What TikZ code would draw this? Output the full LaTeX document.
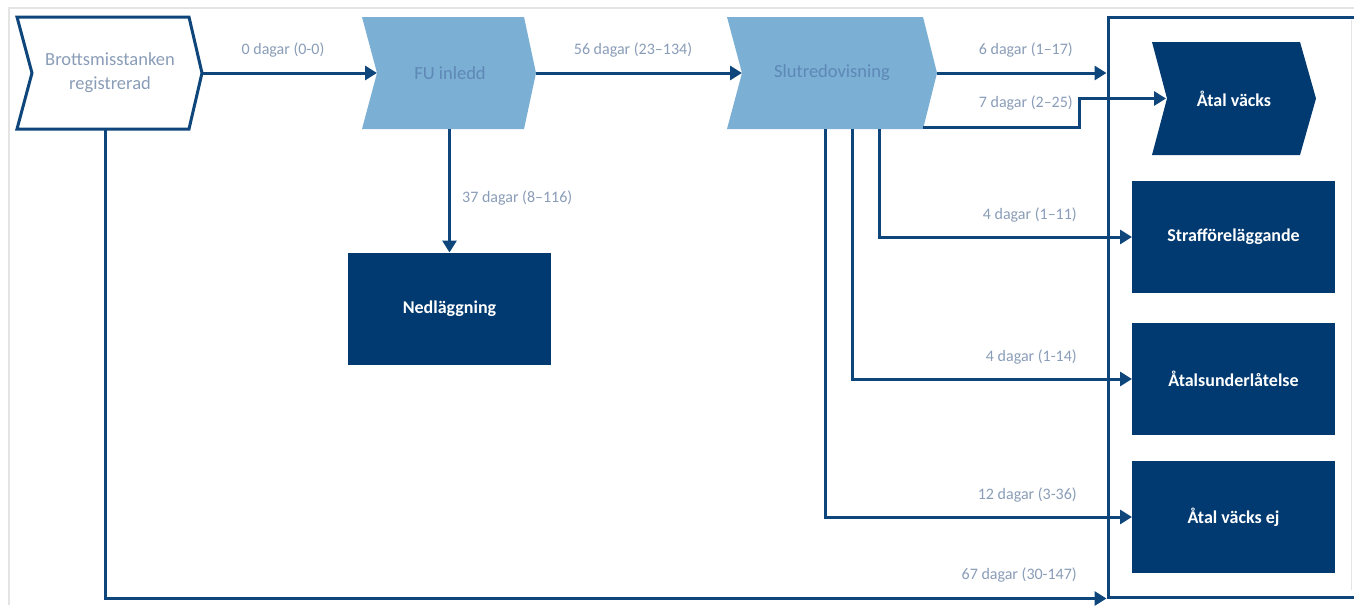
\documentclass[tikz,border=0pt]{standalone}
\usepackage{fontspec}
\setmainfont{Carlito}
\usetikzlibrary{arrows.meta,calc}
\definecolor{dk}{HTML}{003A70}
\definecolor{ln}{HTML}{0E467C}
\definecolor{lt}{HTML}{7BAFD4}
\definecolor{lbl}{HTML}{8A9DB8}
\definecolor{ltx}{HTML}{5E88B6}
\definecolor{frm}{HTML}{E4E4E4}
\pgfdeclarelayer{bg}
\pgfsetlayers{bg,main}
\newcommand{\chevshape}[3]{%
  \path[#2] (#1.north west) -- (#1.north east) -- ($(#1.east)+(#3,0)$) -- (#1.south east) -- (#1.south west) -- ($(#1.west)+(15,0)$) -- cycle;}
\begin{document}
\begin{tikzpicture}[x=1pt,y=-1pt,
  conn/.style={draw=ln, line width=3pt, -{Triangle[length=12pt,width=14pt]}},
  lab/.style={text=lbl, font=\fontsize{16}{19}\selectfont, inner sep=0pt},
  body/.style={minimum width=#1, minimum height=112pt, inner sep=0pt, outer sep=0pt},
  chevtext/.style={font=\fontsize{18.5}{24}\selectfont, align=center, inner sep=0pt},
  dbox/.style={fill=dk, draw=none, minimum width=203pt, minimum height=112pt, text=white,
    font=\bfseries\fontsize{18}{21}\selectfont, inner sep=0pt, outer sep=0pt},
]
\useasboundingbox (0,0) rectangle (1354,605);
\begin{pgfonlayer}{bg}
\fill[white] (0,0) rectangle (1354,605);
\draw[frm, line width=1.5pt] (9,605) -- (9,8) -- (1354,8);
\draw[frm, line width=1pt] (1351,20) -- (1351,590);
\end{pgfonlayer}

% group frame
\node[draw=ln, line width=3pt, minimum width=260pt, minimum height=580pt, inner sep=0pt] (grp) at (1238,307) {};

% chevrons
\node[body=172pt, label={[chevtext, text=lbl, xshift=7pt]center:Brottsmisstanken\\registrerad}] (st) at (103,73) {};
\node[body=162pt, label={[chevtext, text=ltx, xshift=7pt]center:FU inledd}] (fu) at (443,73) {};
\node[body=196pt, label={[chevtext, text=ltx, xshift=7pt]center:Slutredovisning}] (sl) at (825,73) {};
\node[body=148pt, minimum height=113pt, label={[chevtext, text=white, font=\bfseries\fontsize{18}{21}\selectfont, xshift=8pt]center:Åtal väcks}] (av) at (1226,98.5) {};

\begin{pgfonlayer}{bg}
\chevshape{st}{fill=white, draw=ln, line width=3pt, line join=miter}{13}
\chevshape{fu}{fill=lt}{12}
\chevshape{sl}{fill=lt}{14}
\chevshape{av}{fill=dk}{16}
\end{pgfonlayer}

\coordinate (st-tip) at ($(st.east)+(13,0)$);
\coordinate (fu-notch) at ($(fu.west)+(15,0)$);
\coordinate (fu-tip) at ($(fu.east)+(12,0)$);
\coordinate (sl-notch) at ($(sl.west)+(15,0)$);
\coordinate (sl-tip) at ($(sl.east)+(14,0)$);
\coordinate (av-notch) at ($(av.west)+(14,0)$);

% boxes
\node[dbox] (ned) at (449.5,308.5) {Nedläggning};
\node[dbox] (sf) at (1233.5,237) {Strafföreläggande};
\node[dbox] (au) at (1233.5,379) {Åtalsunderlåtelse};
\node[dbox] (ve) at (1233.5,517) {Åtal väcks ej};

% connectors
\draw[conn] (st-tip) -- (fu-notch);
\node[lab] (l0) at (283,50) {0 dagar (0-0)};
\draw[conn] (fu-tip) -- (sl-notch);
\node[lab] (l56) at (633,50) {56 dagar (23–134)};
\draw[conn] (ned.north |- fu.south) -- (ned.north);
\node[lab, anchor=west] (l37) at (462,198) {37 dagar (8–116)};

\draw[conn] (sl-tip) -- (sl-tip -| grp.west);
\node[lab, anchor=east] (l6) at (1073,50) {6 dagar (1–17)};
\draw[conn] ($(sl.south east)+(0,-1.5)$) -| ($(av-notch)+(-87,0)$) -- (av-notch);
\node[lab, anchor=east] (l7) at (1073,103) {7 dagar (2–25)};

\draw[conn] ($(sl.south west)+(152,0)$) |- (sf.west);
\node[lab, anchor=east] (l4a) at (1077,215) {4 dagar (1–11)};
\draw[conn] ($(sl.south west)+(125,0)$) |- (au.west);
\node[lab, anchor=east] (l4b) at (1077,357) {4 dagar (1-14)};
\draw[conn] ($(sl.south west)+(98,0)$) |- (ve.west);
\node[lab, anchor=east] (l12) at (1077,495) {12 dagar (3-36)};

\draw[conn] ($(st.south west)+(88,0)$) |- (grp.south west);
\node[lab, anchor=east] (l67) at (1077,575) {67 dagar (30-147)};
\end{tikzpicture}
\end{document}
